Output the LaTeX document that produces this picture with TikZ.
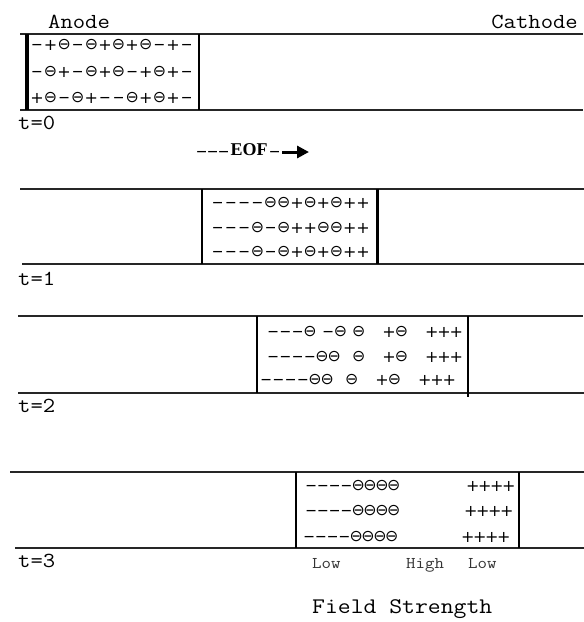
\documentclass[tikz,border=0pt]{standalone}
\usepackage{graphicx}
\usepackage{fontspec}
\newfontfamily\cour[FakeStretch=1.12]{Latin Modern Mono}
\newfontfamily\serifb{Liberation Serif}
\newfontfamily\djv{DejaVu Sans}
\usetikzlibrary{arrows.meta}

\newlength\cellw
\setlength\cellw{12.5pt}
\newcommand\symb[2]{\makebox[\cellw]{$\vcenter{\hbox{\djv\fontsize{#1}{#1}\selectfont #2}}$}}
\newcommand\minussym{\phantom{+}\llap{\makebox[0.838em]{\raisebox{0.8pt}{\smash{\scalebox{2.1}[1]{-}}}}}}
\def\rowloop#1{\ifx#1\relax\else\rowcell#1\expandafter\rowloop\fi}
\def\rowcell#1{\ifx#1o\symb{15.8}{⊖}\else\ifx#1.\hspace*{\cellw}\else\ifx#1,\hspace*{.5\cellw}\else\ifx#1-\symb{16}{\minussym}\else\symb{16}{+}\fi\fi\fi\fi}
\newcommand\chargerow[2]{\setlength\cellw{#1}\rowloop#2\relax}

\tikzset{
  hline/.style={line width=1.3pt, black!85},
  wallbar/.style={line width=#1, black},
  lbl/.style={inner sep=0pt, font=\cour\fontsize{21.4}{21.4}\selectfont},
  small/.style={inner sep=0pt, font=\cour\fontsize{16.4}{16.4}\selectfont, black!80},
  rowtxt/.style={inner sep=0pt, anchor=base west, font=\fontsize{14.4}{14.4}\selectfont}
}

\begin{document}
\begin{tikzpicture}[x=1pt, y=-1pt]
\useasboundingbox (0,0) rectangle (584,622);

% labels
\node[lbl, anchor=base west] (anode) at (48,28) {Anode};
\node[lbl, anchor=base east] (cathode) at (578,28) {Cathode};
\node[lbl, anchor=base west] (t0) at (18,129) {t=0};
\node[lbl, anchor=base west] (t1) at (18,285) {t=1};
\node[lbl, anchor=base west] (t2) at (18,412) {t=2};
\node[lbl, anchor=base west] (t3) at (18,567) {t=3};

% EOF arrow
\node[rowtxt] (eof) at (196,155.6) {\chargerow{11pt}{---}\kern1.5pt{\serifb\bfseries\fontsize{18}{18}\selectfont EOF}\kern1.5pt\chargerow{11pt}{-}};
\coordinate (eofend) at (309,152);
\draw[line width=3pt, -{Triangle[length=12pt,width=12pt]}, shorten <=2pt] (eof.east |- eofend) -- (eofend);

% panel 0
\draw[hline] (20,34) -- (583,34);
\draw[hline] (20,110) -- (583,110);
\draw[wallbar=3.5pt] (27,34) -- (27,110);
\draw[wallbar=2pt] (199,34) -- (199,110);
\node[rowtxt] (p0r1) at (30,48.6) {\chargerow{13.6pt}{-+o-o+o+o-+-}};
\node[rowtxt] (p0r2) at (30,75.6) {\chargerow{13.6pt}{-o+-o+o-+o+-}};
\node[rowtxt] (p0r3) at (30,101.6) {\chargerow{13.6pt}{+o-o+--o+o+-}};

% panel 1
\draw[hline] (20,189) -- (584,189);
\draw[hline] (22,264) -- (584,264);
\draw[wallbar=2pt] (202,189) -- (202,264);
\draw[wallbar=3pt] (377,189) -- (377,264);
\node[rowtxt] (p1r1) at (211,206.6) {\chargerow{13.2pt}{----oo+o+o++}};
\node[rowtxt] (p1r2) at (211,231.6) {\chargerow{13.2pt}{---o-o++oo++}};
\node[rowtxt] (p1r3) at (211,255.6) {\chargerow{13.2pt}{---o-o+o+o++}};

% panel 2
\draw[hline] (18,316) -- (583,316);
\draw[hline] (18,393) -- (584,393);
\draw[wallbar=2pt] (257,316) -- (257,393);
\draw[wallbar=2pt] (468,316) -- (468,397);
\node[rowtxt] (p2r1) at (267,335.6) {\chargerow{12.2pt}{---o,-o,o.,+o.,+++}};
\node[rowtxt] (p2r2) at (267,360.6) {\chargerow{12.2pt}{----oo.o,.+o.,+++}};
\node[rowtxt] (p2r3) at (260,383.6) {\chargerow{12.2pt}{----oo.o,.+o.,+++}};

% panel 3
\draw[hline] (10,472) -- (584,472);
\draw[hline] (15,548) -- (584,548);
\draw[wallbar=1.5pt] (296,472) -- (296,548);
\draw[wallbar=2.5pt] (519,472) -- (519,548);
\node[rowtxt] (p3r1a) at (305,489.6) {\chargerow{11.8pt}{----oooo}};
\node[rowtxt] (p3r2a) at (305,514.6) {\chargerow{11.8pt}{----oooo}};
\node[rowtxt] (p3r3a) at (303,540.6) {\chargerow{11.8pt}{----oooo}};
\node[rowtxt, anchor=base east] (p3r1b) at (515,489.6) {\chargerow{12pt}{++++}};
\node[rowtxt, anchor=base east] (p3r2b) at (513,514.6) {\chargerow{12pt}{++++}};
\node[rowtxt, anchor=base east] (p3r3b) at (510,540.6) {\chargerow{12pt}{++++}};

% field strength labels
\node[small, anchor=base west] (low1) at (312,568) {Low};
\node[small, anchor=base west] (high) at (406,568) {High};
\node[small, anchor=base west] (low2) at (468,568) {Low};
\node[inner sep=0pt, anchor=base west, font=\cour\fontsize{22.3}{22.3}\selectfont] (field) at (312,613) {Field Strength};
\end{tikzpicture}
\end{document}
